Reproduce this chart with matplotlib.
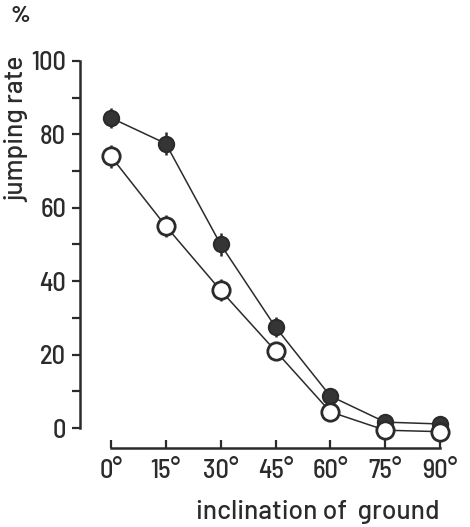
import matplotlib
matplotlib.use("Agg")
import matplotlib.pyplot as plt
from matplotlib import font_manager

angles = [0, 15, 30, 45, 60, 75, 90]
xtick_labels = ["0°", "15°", "30°", "45°", "60°", "75°", "90°"]
filled_vals = [84.5, 77.5, 50, 27.5, 8.7, 1.6, 1.1]
filled_err = [2.8, 3.2, 3.0, 2.7, 1.5, 1.0, 1.0]
open_vals = [74, 55, 37.5, 21, 4.4, -0.6, -1.0]
open_err = [3.2, 3.0, 3.0, 2.0, 1.5, 1.0, 1.0]
yticks = [0, 20, 40, 60, 80, 100]
yminor = [10, 30, 50, 70, 90]

names = {f.name for f in font_manager.fontManager.ttflist}
def pick(*cands):
    for c in cands:
        if c in names:
            return c
    return "DejaVu Sans"
tick_font = pick("Barlow Semi Condensed", "Barlow", "DejaVu Sans")
label_font = pick("Barlow", "DejaVu Sans")

ink = "#2b2b2b"
W, H = 470, 527
fig = plt.figure(figsize=(W / 100, H / 100), dpi=100)
fig.patch.set_facecolor("white")

left, right, top, bottom = 80, 452, 61, 448
ax = fig.add_axes([left / W, (H - bottom) / H, (right - left) / W, (bottom - top) / H])
px_per_unit_y = (428 - 61) / 100.0
ax.set_ylim(-(bottom - 428) / px_per_unit_y, 100)
px_per_deg = (440 - 111) / 90.0
ax.set_xlim(-(111 - left) / px_per_deg, (right - 111) / px_per_deg)

ax.plot(angles, filled_vals, color=ink, lw=1.1, zorder=2)
ax.plot(angles, open_vals, color=ink, lw=1.1, zorder=2)
ax.errorbar(angles, filled_vals, yerr=filled_err, fmt="none", ecolor=ink, elinewidth=1.8, capsize=0, zorder=3)
ax.errorbar(angles, open_vals, yerr=open_err, fmt="none", ecolor=ink, elinewidth=1.8, capsize=0, zorder=3)
ax.plot(angles, filled_vals, "o", ms=11, mfc="#353535", mec=ink, mew=1.5, ls="none", zorder=4)
ax.plot(angles, open_vals, "o", ms=12.5, mfc="white", mec=ink, mew=2.0, ls="none", zorder=4)

for s in ["top", "right"]:
    ax.spines[s].set_visible(False)
ax.spines["left"].set_bounds(0, 100)
ax.spines["bottom"].set_bounds(0, 90)
for s in ["left", "bottom"]:
    ax.spines[s].set_color(ink)
    ax.spines[s].set_linewidth(1.8)

ax.set_yticks(yticks)
ax.set_yticks(yminor, minor=True)
ax.set_yticklabels([str(v) for v in yticks])
ax.tick_params(axis="y", which="both", direction="out", length=6, width=1.6, color=ink, pad=4,
               labelsize=19, labelcolor=ink)
ax.set_xticks(angles)
ax.set_xticklabels(xtick_labels)
ax.tick_params(axis="x", direction="in", length=6, width=1.6, color=ink, pad=8,
               labelsize=19, labelcolor=ink)
for lab in ax.get_xticklabels() + ax.get_yticklabels():
    lab.set_family(tick_font)
    lab.set_fontweight("medium")

fig.text(20 / W, 1 - 16 / H, "%", fontsize=17, fontweight="bold", color=ink, ha="center", va="center",
         family=label_font)
fig.text(17 / W, 1 - 129 / H, "jumping rate", fontsize=19, color=ink, rotation=90, ha="center", va="center",
         family=label_font, fontweight="medium")
fig.text(318 / W, 1 - 512 / H, "inclination of  ground", fontsize=19, color=ink, ha="center", va="center",
         family=label_font, fontweight="medium")

fig.savefig("out.png", dpi=100, facecolor="white")
